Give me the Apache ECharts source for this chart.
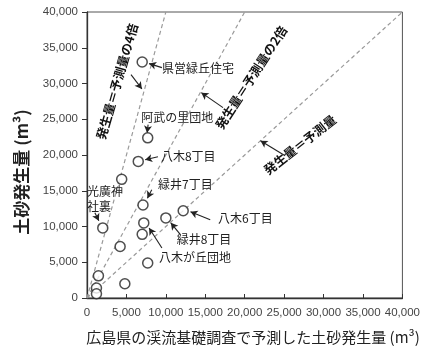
<!DOCTYPE html>
<html><head><meta charset="utf-8">
<script src="https://cdn.jsdelivr.net/npm/echarts@6/dist/echarts.min.js"></script>
<style>html,body{margin:0;padding:0;background:#fff}#c{width:423px;height:348px}</style>
</head><body><div id="c"></div>
<script>
// Observed points (predicted, actual) in m3
var pointsX = [7000, 7700, 6500, 4400, 7100, 2000, 7200, 7000, 10000, 12200, 7700, 4200, 4800, 1450, 1200, 1200];
var pointsY = [33000, 22400, 19100, 16600, 13000, 9800, 10500, 8900, 11200, 12200, 4900, 7200, 2000, 3100, 1400, 600];
// reference lines: actual = k * predicted
var ratios = [1, 2, 4];
var axisMax = 40000;
var tickStep = 5000;
// Site name annotations: text, anchor x, anchor y (data units)
var siteNames = ['県営緑丘住宅', '阿武の里団地', '八木8丁目', '緑井7丁目', '八木6丁目', '緑井8丁目', '八木が丘団地', '光廣神\n社裏'];
var siteLabelX = [9500, 6875, 9375, 9000, 16625, 11375, 9125, 0];
var siteLabelY = [32080, 25220, 19750, 15830, 11070, 8130, 5740, 13800];
// Arrows: from (x1,y1) to (x2,y2) in data units
var arrowFromX = [9500, 7750, 9000, 8210, 15625, 11875, 9500, 1000, 5580, 17250, 25125];
var arrowFromY = [32220, 24240, 19750, 15130, 10930, 8830, 7000, 11910, 31240, 26620, 19900];
var arrowToX = [7875, 7625, 7375, 7660, 13125, 10625, 7875, 1500, 6960, 14500, 22000];
var arrowToY = [32780, 23120, 19330, 13960, 12050, 10510, 9800, 10800, 29240, 28720, 22000];
// Reference line labels
var lineLabels = ['発生量＝予測量の4倍', '発生量＝予測量の2倍', '発生量＝予測量'];
var lineLabelX = [3810, 20810, 27000];
var lineLabelY = [30260, 30820, 21430];
var lineLabelAngle = [74, 57, 38];

var xTitle = '広島県の渓流基礎調査で予測した土砂発生量 (m³)';
var yTitle = '土砂発生量 (m³)';

var JP = '"Noto Sans CJK JP", sans-serif';

var scatterData = pointsX.map(function (x, i) { return [x, pointsY[i]]; });
var refSeries = ratios.map(function (k) {
  return {
    type: 'line', data: [[0, 0], [axisMax / k, axisMax]], symbol: 'none', silent: true,
    lineStyle: { color: '#9a9a9a', width: 1.2, type: [4, 3] }, z: 1
  };
});
var arrowData = arrowFromX.map(function (x, i) {
  return [{ coord: [x, arrowFromY[i]] }, { coord: [arrowToX[i], arrowToY[i]] }];
});
var siteData = siteNames.map(function (n, i) { return [siteLabelX[i], siteLabelY[i], n]; });
var lineLabelData = lineLabels.map(function (n, i) { return [lineLabelX[i], lineLabelY[i], n, lineLabelAngle[i]]; });

var chart = echarts.init(document.getElementById('c'), null, { renderer: 'canvas' });
chart.setOption({
  animation: false,
  grid: { left: 87, right: 16, top: 12, bottom: 50, show: true, borderColor: '#555', borderWidth: 1 },
  xAxis: {
    type: 'value', min: 0, max: axisMax, interval: tickStep,
    axisLine: { show: true, lineStyle: { color: '#333', width: 1.3 } },
    axisTick: { show: true, inside: true, length: 4, lineStyle: { color: '#333' } },
    splitLine: { show: false },
    axisLabel: { margin: 9, color: '#444', fontSize: 11.5, fontFamily: '"Liberation Sans", sans-serif',
      formatter: function (v) { return v.toLocaleString('en-US'); } }
  },
  yAxis: {
    type: 'value', min: 0, max: axisMax, interval: tickStep,
    axisLine: { show: true, lineStyle: { color: '#333', width: 1.3 } },
    axisTick: { show: true, inside: false, length: 5, lineStyle: { color: '#333' } },
    splitLine: { show: false },
    axisLabel: { margin: 9, color: '#444', fontSize: 11.5, fontFamily: '"Liberation Sans", sans-serif',
      formatter: function (v) { return v.toLocaleString('en-US'); } }
  },
  graphic: [
    { type: 'text', x: 253, y: 337, style: { text: xTitle, font: '15px ' + JP, fill: '#222', align: 'center', verticalAlign: 'middle' } },
    { type: 'text', x: 22, y: 172, rotation: Math.PI / 2, style: { text: yTitle, font: 'bold 17px ' + JP, fill: '#222', align: 'center', verticalAlign: 'middle' } }
  ],
  series: refSeries.concat([
    {
      type: 'scatter', data: scatterData, symbol: 'circle', symbolSize: 10, z: 5,
      itemStyle: { color: '#fff', borderColor: '#222', borderWidth: 1.5 }
    },
    {
      type: 'line', data: [], symbol: 'none', silent: true,
      markLine: {
        silent: true, symbol: ['none', 'arrow'], symbolSize: [6, 7], label: { show: false },
        lineStyle: { color: '#222', width: 1.1, type: 'solid' }, data: arrowData
      }
    },
    {
      type: 'custom', data: siteData, silent: true, z: 6,
      renderItem: function (params, api) {
        var p = api.coord([api.value(0), api.value(1)]);
        return { type: 'text', x: p[0], y: p[1], style: { text: siteData[params.dataIndex][2], font: '12px ' + JP, fill: '#222', align: 'left', verticalAlign: 'middle', lineHeight: 15 } };
      }
    },
    {
      type: 'custom', data: lineLabelData, silent: true, z: 6,
      renderItem: function (params, api) {
        var d = lineLabelData[params.dataIndex];
        var p = api.coord([d[0], d[1]]);
        return { type: 'text', x: p[0], y: p[1], rotation: d[3] * Math.PI / 180, style: { text: d[2], font: 'bold 12.5px ' + JP, fill: '#111', align: 'center', verticalAlign: 'middle' } };
      }
    }
  ])
});
</script></body></html>
